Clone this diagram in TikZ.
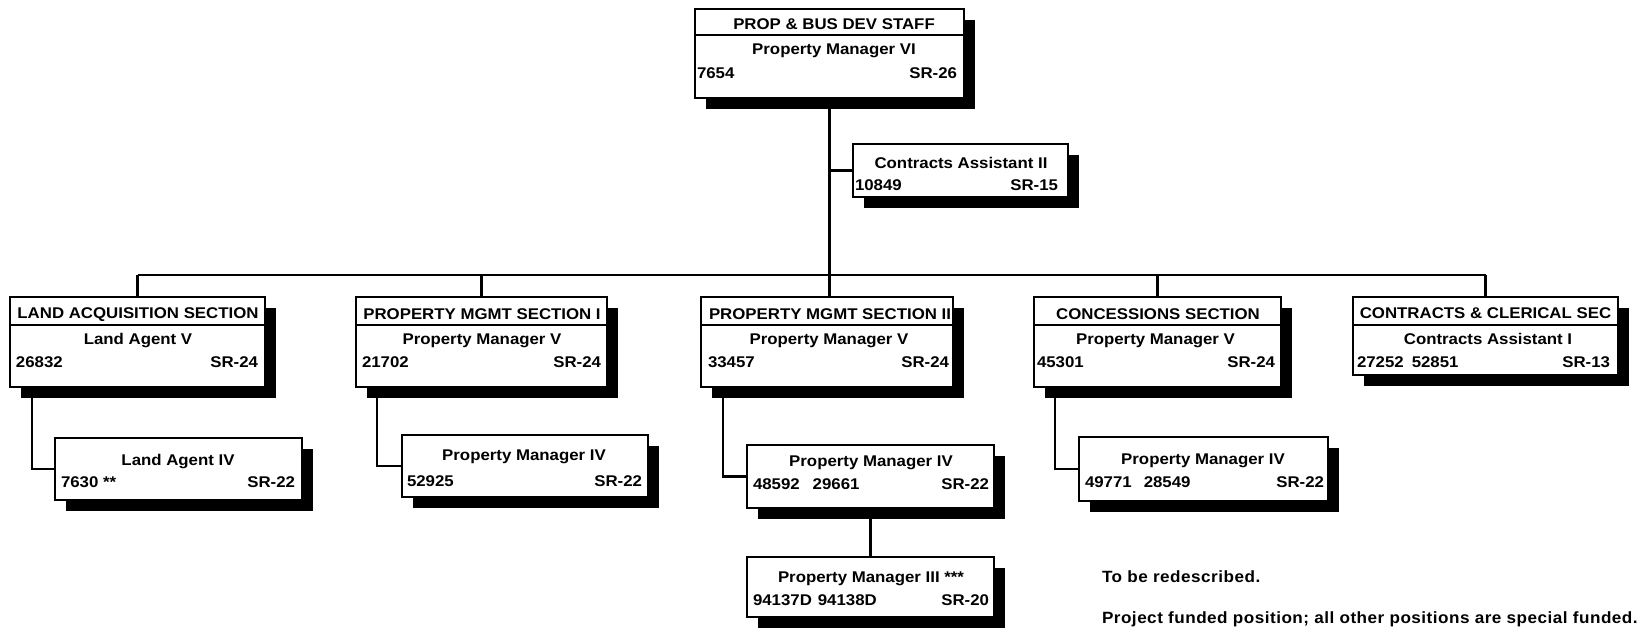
\documentclass[tikz,border=0pt]{standalone}
\usepackage{fontspec}
\setmainfont{Liberation Sans}[FakeStretch=1.085]
\newfontfamily\notefont{Liberation Sans}[FakeStretch=1.05,LetterSpace=3]
\usetikzlibrary{calc}
\newcommand\orgbox[5]{%
  \fill[black] (#2+11,#3+11) rectangle (#4+11,#5+11);
  \node[boxst, anchor=north west, minimum width={#4-#2}, minimum height={#5-#3}] (#1) at (#2,#3) {};
}
\begin{document}
\begin{tikzpicture}[x=1pt,y=-1pt,
  boxst/.style={draw=black, line width=2.1pt, fill=white, inner sep=0pt, outer sep=0pt, rectangle},
  ln/.style={line width=2.1pt},
  tx/.style={inner sep=0pt, outer sep=0pt, font=\fontsize{15.5}{18}\selectfont\bfseries},
  nt/.style={inner sep=0pt, outer sep=0pt, font=\notefont\fontsize{16.3}{19}\selectfont\bfseries}]
\useasboundingbox (0,0) rectangle (1646,629);
\coordinate (bus) at (0,275);

% boxes
\orgbox{top}{695}{9}{964}{98}
\orgbox{ca2}{853}{144}{1068}{197}
\orgbox{land}{10}{297}{265}{387}
\orgbox{sec1}{356}{297}{607}{387}
\orgbox{sec2}{701}{297}{953}{387}
\orgbox{conc}{1034}{297}{1281}{387}
\orgbox{cc}{1353}{297}{1618}{375}
\orgbox{la4}{55}{438}{302}{500}
\orgbox{pm4a}{402}{435}{648}{497}
\orgbox{pm4b}{747}{445}{994}{508}
\orgbox{pm3}{747}{557}{994}{617}
\orgbox{pm4c}{1079}{437}{1328}{501}

% header dividers
\draw[ln] (top.north west |- 0,35) -- (top.north east |- 0,35);
\draw[ln] (land.north west |- 0,325) -- (land.north east |- 0,325);
\draw[ln] (sec1.north west |- 0,325) -- (sec1.north east |- 0,325);
\draw[ln] (sec2.north west |- 0,325) -- (sec2.north east |- 0,325);
\draw[ln] (conc.north west |- 0,325) -- (conc.north east |- 0,325);
\draw[ln] (cc.north west |- 0,325) -- (cc.north east |- 0,325);

% connectors
\draw[ln] (top.south) -- (top.south |- sec2.north);
\draw[ln] (top.south |- ca2.west) -- (ca2.west);
\draw[ln] (land.north |- bus) -- (cc.north |- bus);
\draw[ln] (land.north |- bus) -- (land.north);
\draw[ln] (sec1.north |- bus) -- (sec1.north);
\draw[ln] (conc.north |- bus) -- (conc.north);
\draw[ln] (cc.north |- bus) -- (cc.north);
\draw[ln] ($(land.south west)+(22,0)$) |- (la4.west);
\draw[ln] ($(sec1.south west)+(21,0)$) |- (pm4a.west);
\draw[ln] ($(sec2.south west)+(22,0)$) |- (pm4b.west);
\draw[ln] ($(conc.south west)+(21,0)$) |- (pm4c.west);
\draw[ln] (pm4b.south) -- (pm3.north);

% texts
\node[tx, anchor=base] (topH) at (834,29) {PROP \& BUS DEV STAFF};
\node[tx, anchor=base] (topT) at (834,54) {Property Manager VI};
\node[tx, anchor=base west] (topN) at (697,78) {7654};
\node[tx, anchor=base east] (topG) at (957,78) {SR-26};

\node[tx, anchor=base] (ca2T) at (961,168) {Contracts Assistant II};
\node[tx, anchor=base west] (ca2N) at (855,190) {10849};
\node[tx, anchor=base east] (ca2G) at (1058,190) {SR-15};

\node[tx, anchor=base] (landH) at (138,318) {LAND ACQUISITION SECTION};
\node[tx, anchor=base] (landT) at (138,344) {Land Agent V};
\node[tx, anchor=base west] (landN) at (16,367) {26832};
\node[tx, anchor=base east] (landG) at (258,367) {SR-24};

\node[tx, anchor=base] (la4T) at (178,465.5) {Land Agent IV};
\node[tx, anchor=base west] (la4N) at (61,487.5) {7630 **};
\node[tx, anchor=base east] (la4G) at (295,487.5) {SR-22};

\node[tx, anchor=base] (sec1H) at (482,319) {PROPERTY MGMT SECTION I};
\node[tx, anchor=base] (sec1T) at (482,344) {Property Manager V};
\node[tx, anchor=base west] (sec1N) at (362,367) {21702};
\node[tx, anchor=base east] (sec1G) at (601,367) {SR-24};

\node[tx, anchor=base] (pm4aT) at (524,460.5) {Property Manager IV};
\node[tx, anchor=base west] (pm4aN) at (407,486) {52925};
\node[tx, anchor=base east] (pm4aG) at (642,486) {SR-22};

\node[tx, anchor=base] (sec2H) at (830,319) {PROPERTY MGMT SECTION II};
\node[tx, anchor=base] (sec2T) at (829,344) {Property Manager V};
\node[tx, anchor=base west] (sec2N) at (708,367) {33457};
\node[tx, anchor=base east] (sec2G) at (949,367) {SR-24};

\node[tx, anchor=base] (pm4bT) at (871,466.5) {Property Manager IV};
\node[tx, anchor=base west] (pm4bN) at (753,489) {48592\hspace{13pt}29661};
\node[tx, anchor=base east] (pm4bG) at (989,489) {SR-22};

\node[tx, anchor=base] (pm3T) at (871,582.5) {Property Manager III ***};
\node[tx, anchor=base west] (pm3N) at (753,605) {94137D\hspace{6pt}94138D};
\node[tx, anchor=base east] (pm3G) at (989,605) {SR-20};

\node[tx, anchor=base] (concH) at (1158,319) {CONCESSIONS SECTION};
\node[tx, anchor=base] (concT) at (1155.5,344) {Property Manager V};
\node[tx, anchor=base west] (concN) at (1037,367.5) {45301};
\node[tx, anchor=base east] (concG) at (1275,367.5) {SR-24};

\node[tx, anchor=base] (pm4cT) at (1203,464.5) {Property Manager IV};
\node[tx, anchor=base west] (pm4cN) at (1085,487.5) {49771\hspace{12pt}28549};
\node[tx, anchor=base east] (pm4cG) at (1324,487.5) {SR-22};

\node[tx, anchor=base] (ccH) at (1485.5,318.5) {CONTRACTS \& CLERICAL SEC};
\node[tx, anchor=base] (ccT) at (1488,344) {Contracts Assistant I};
\node[tx, anchor=base west] (ccN) at (1357,367) {27252\hspace{8pt}52851};
\node[tx, anchor=base east] (ccG) at (1610,367) {SR-13};

% notes
\node[nt, anchor=base west] (note1) at (1102,582) {To be redescribed.};
\node[nt, anchor=base west] (note2) at (1102,623) {Project funded position; all other positions are special funded.};
\end{tikzpicture}
\end{document}
